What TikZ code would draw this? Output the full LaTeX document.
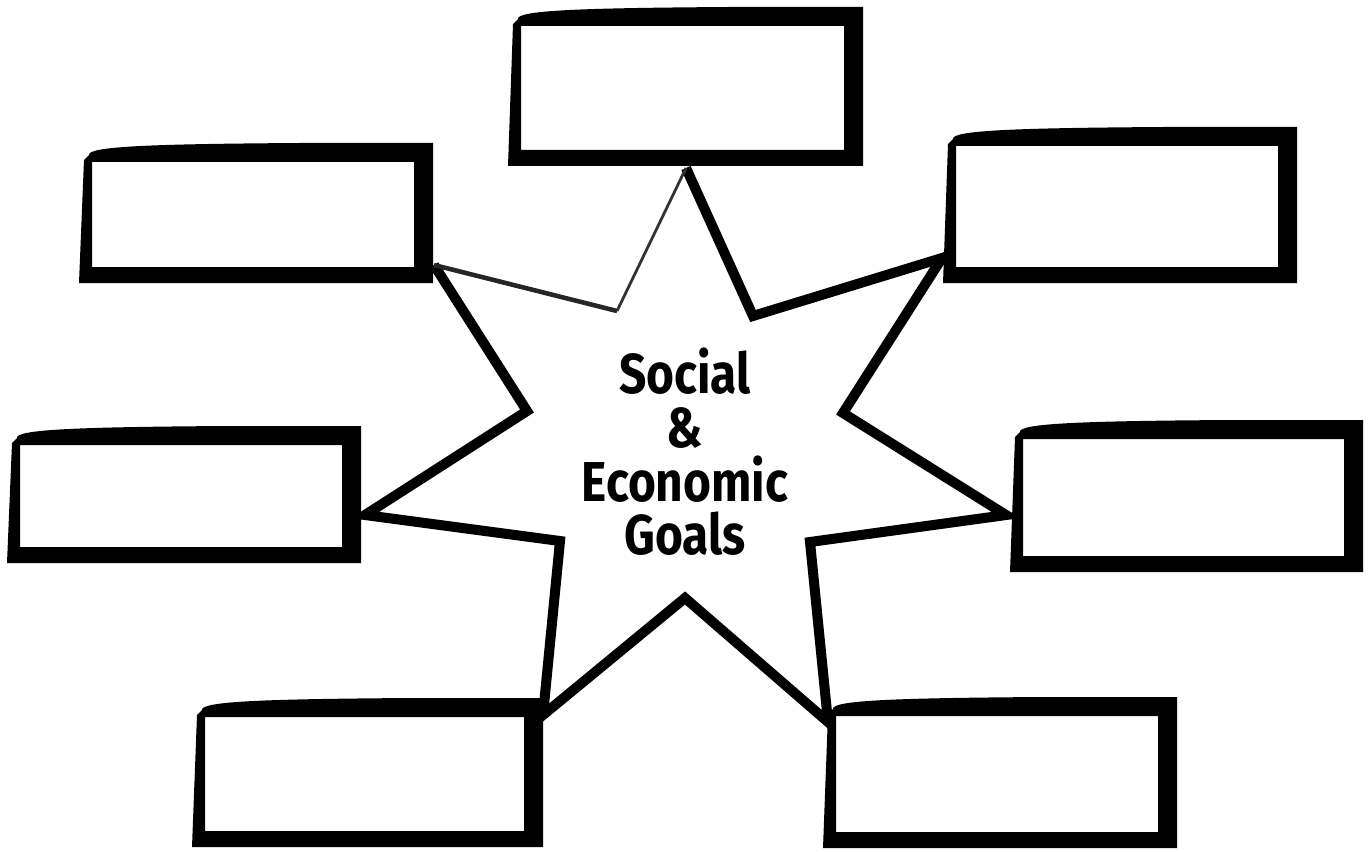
\documentclass[tikz,border=0pt]{standalone}
\usepackage{fontspec}
\newfontfamily\goalfont[FakeStretch=0.85]{Fira Sans}

\tikzset{
  starline/.style={line width=5.7pt,line join=miter,miter limit=12},
  thinline/.style={line width=2.6pt,line join=miter,miter limit=12,black!85},
  hairline/.style={line width=1.6pt,line join=miter,miter limit=12,black!80},
  brush/.style={fill=black,even odd rule},
  goaltext/.style={align=center,font={\goalfont\bfseries\fontsize{32pt}{30.6pt}\selectfont}}
}
% brush box: #1 name, #2 left, #3 top, #4 right, #5 bottom (pixels)
\newcommand\brushbox[5]{%
  \fill[brush] ({#2+10},{#3+12}) .. controls ({#2+8},{#3+3}) and ({#2+80},{#3+1}) .. ({#2+220},{#3})
    -- (#4,#3) -- (#4,#5) -- (#2,#5) -- ({#2+5},{#3+17}) -- cycle
    ({#2+13},{#3+19}) rectangle ({#4-19},{#5-16});
  \coordinate (#1) at ({(#2+#4)/2},{(#3+#5)/2});
}

\begin{document}
\begin{tikzpicture}[x=0.02cm,y=-0.02cm]
  \useasboundingbox (0,0) rectangle (1371,851);
  % Star points
  \coordinate (p1) at (686,168);
  \coordinate (i1) at (753,316);
  \coordinate (p2) at (942,258);
  \coordinate (i2) at (843,413);
  \coordinate (p3) at (1006,515);
  \coordinate (i3) at (810,542);
  \coordinate (p4) at (828,722);
  \coordinate (i4) at (685,598);
  \coordinate (p5) at (543,715);
  \coordinate (i5) at (560,541);
  \coordinate (p6) at (365,515);
  \coordinate (i6) at (527,411);
  \coordinate (p7) at (434,265);
  \coordinate (i7) at (617,311);
  % Star
  \draw[starline] (p1) -- (i1) -- (p2) -- (i2) -- (p3) -- (i3) -- (p4)
    -- (i4) -- (p5) -- (i5) -- (p6) -- (i6) -- (p7);
  \draw[thinline] (p7) -- (i7);
  \draw[hairline] (i7) -- (p1);
  % Boxes
  \brushbox{top}{508}{7}{863}{166}
  \brushbox{upleft}{79}{143}{433}{283}
  \brushbox{upright}{943}{127}{1297}{283}
  \brushbox{left}{7}{426}{361}{563}
  \brushbox{right}{1010}{420}{1363}{572}
  \brushbox{lowleft}{192}{698}{543}{847}
  \brushbox{lowright}{823}{697}{1177}{848}
  % Title
  \node[goaltext] (goals) at (685,452) {Social\\\&\\Economic\\Goals};
\end{tikzpicture}
\end{document}
